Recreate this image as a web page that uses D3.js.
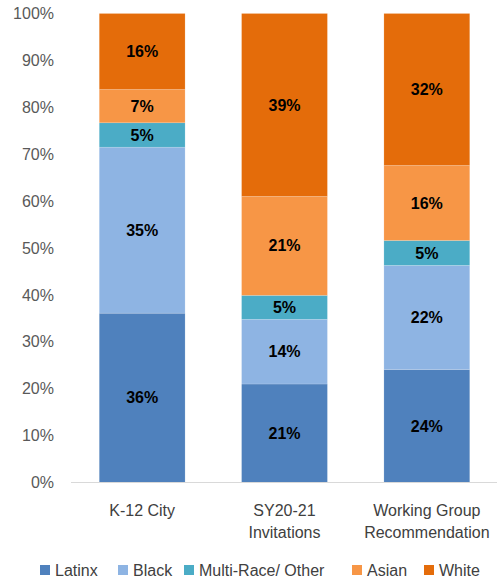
<!DOCTYPE html>
<html>
<head>
<meta charset="utf-8">
<script src="https://cdn.jsdelivr.net/npm/d3@7"></script>
<style>
  body { margin: 0; background: #fff; }
  text { font-family: "Liberation Sans", Arial, sans-serif; }
</style>
</head>
<body>
<svg id="chart" width="497" height="579"></svg>
<script>
// data (percent of each column)
var categories = ["K-12 City", "SY20-21 Invitations", "Working Group Recommendation"];
var categoryLines = [["K-12 City"], ["SY20-21", "Invitations"], ["Working Group", "Recommendation"]];
var groups = ["Latinx", "Black", "Multi-Race/ Other", "Asian", "White"];
var latinx = [36.1, 21.0, 24.1];
var black = [35.4, 13.8, 22.2];
var multi = [5.2, 5.1, 5.3];
var asian = [7.1, 21.1, 16.0];
var white = [16.2, 39.0, 32.4];
var yTicks = [0, 10, 20, 30, 40, 50, 60, 70, 80, 90, 100];
var colors = ["#4f81bd", "#8eb4e3", "#4bacc6", "#f79646", "#e46c0a"];

var series = [latinx, black, multi, asian, white];
var rows = categories.map(function(c, i) {
  var r = { cat: c };
  groups.forEach(function(g, j) { r[g] = series[j][i]; });
  return r;
});

var svg = d3.select("#chart");

var x = d3.scaleBand()
  .domain(categories)
  .range([71, 498])
  .paddingInner(0.397)
  .paddingOuter(0.1985);

var y = d3.scaleLinear().domain([0, 100]).range([482.5, 13.5]);

var color = d3.scaleOrdinal().domain(groups).range(colors);

var stacked = d3.stack().keys(groups)(rows);

/* y axis labels, no line */
var yAxis = d3.axisLeft(y)
  .tickValues(yTicks)
  .tickSize(0)
  .tickPadding(0)
  .tickFormat(function(d) { return d + "%"; });

svg.append("g")
  .attr("transform", "translate(54,0)")
  .call(yAxis)
  .call(function(g) { g.select(".domain").remove(); })
  .selectAll("text")
  .attr("fill", "#595959")
  .style("font-size", "16px");

/* bars */
var layers = svg.append("g")
  .selectAll("g")
  .data(stacked)
  .join("g")
  .attr("fill", function(d) { return color(d.key); });

layers.selectAll("rect")
  .data(function(d) { return d; })
  .join("rect")
  .attr("x", function(d) { return x(d.data.cat); })
  .attr("width", x.bandwidth())
  .attr("y", function(d) { return y(d[1]); })
  .attr("height", function(d) { return y(d[0]) - y(d[1]); })
  .attr("stroke", "#ffffff")
  .attr("stroke-opacity", 0.25)
  .attr("stroke-width", 0.6);

/* value labels */
layers.selectAll("text")
  .data(function(d) { return d; })
  .join("text")
  .attr("x", function(d) { return x(d.data.cat) + x.bandwidth() / 2; })
  .attr("y", function(d) { return y((d[0] + d[1]) / 2); })
  .attr("dy", "0.35em")
  .attr("text-anchor", "middle")
  .attr("fill", "#000")
  .style("font-size", "16px")
  .style("font-weight", "bold")
  .text(function(d) { return Math.round(d[1] - d[0]) + "%"; });

/* bottom axis line */
svg.append("line")
  .attr("x1", x.range()[0])
  .attr("x2", x.range()[1])
  .attr("y1", y(0))
  .attr("y2", y(0))
  .attr("stroke", "#d9d9d9")
  .attr("stroke-width", 1);

/* category labels */
var catLabels = svg.append("g")
  .selectAll("text")
  .data(categories)
  .join("text")
  .attr("x", function(d) { return x(d) + x.bandwidth() / 2; })
  .attr("y", 510)
  .attr("text-anchor", "middle")
  .attr("fill", "#404040")
  .style("font-size", "16px");

catLabels.each(function(d, i) {
  d3.select(this).selectAll("tspan")
    .data(categoryLines[i])
    .join("tspan")
    .attr("x", x(d) + x.bandwidth() / 2)
    .attr("dy", function(t, k) { return k === 0 ? "0.35em" : "22px"; })
    .text(function(t) { return t; });
});

/* legend */
var legendX = [40, 118, 184, 352, 424];
var legend = svg.append("g")
  .selectAll("g")
  .data(groups)
  .join("g")
  .attr("transform", function(d, i) { return "translate(" + legendX[i] + ",570)"; });

legend.append("rect")
  .attr("x", 0)
  .attr("y", -5)
  .attr("width", 10)
  .attr("height", 10)
  .attr("fill", function(d) { return color(d); });

legend.append("text")
  .attr("x", 15)
  .attr("dy", "0.35em")
  .attr("fill", "#404040")
  .style("font-size", "16px")
  .text(function(d) { return d; });
</script>
</body>
</html>
